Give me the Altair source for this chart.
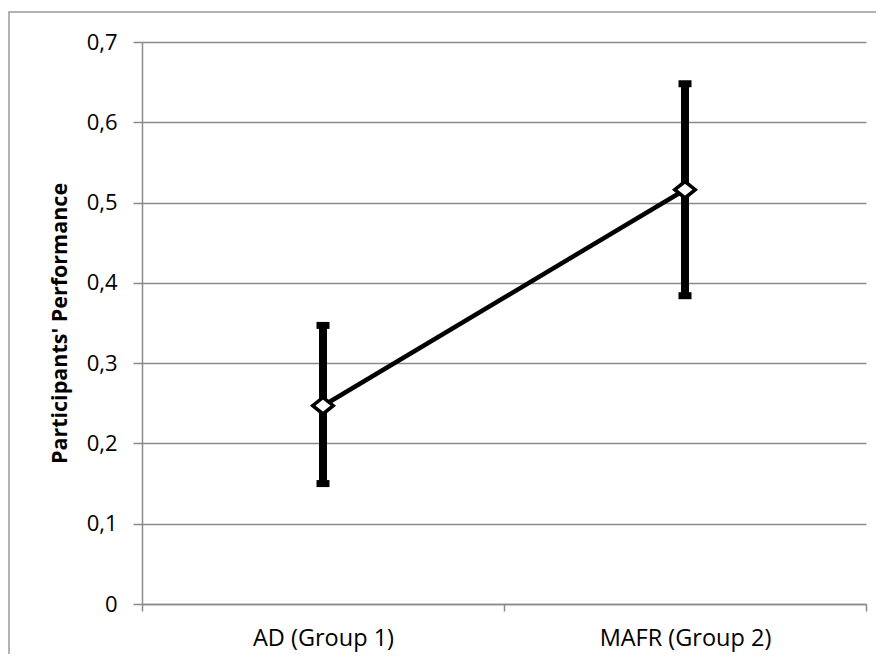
import altair as alt
import pandas as pd

groups = ["AD (Group 1)", "MAFR (Group 2)"]
means = [0.247, 0.516]
lower = [0.150, 0.384]
upper = [0.347, 0.648]
y_ticks = [0, 0.1, 0.2, 0.3, 0.4, 0.5, 0.6, 0.7]

df = pd.DataFrame({"group": groups, "mean": means, "lo": lower, "hi": upper})

FONT = "Open Sans"
GRAY = "#8a8a8a"

x_enc = alt.X(
    "group:N",
    sort=groups,
    scale=alt.Scale(type="band", paddingInner=0, paddingOuter=0),
    axis=alt.Axis(
        title=None, labelAngle=0, tickBand="extent", tickSize=7,
        labelPadding=15, labelFontSize=23.5, labelFont=FONT, labelColor="#000000",
        domainColor=GRAY, tickColor=GRAY, domainWidth=1.5, tickWidth=1.5,
        grid=False,
    ),
)

y_scale = alt.Scale(domain=[0, 0.7], nice=False, zero=True)
y_axis = alt.Axis(
    title="Participants' Performance",
    values=y_ticks,
    labelExpr="replace(format(datum.value, '.1~f'), '.', ',')",
    tickSize=9, labelPadding=16, labelFontSize=22, labelFont=FONT,
    labelColor="#000000",
    titleFont=FONT, titleFontSize=21.5, titleFontWeight="bold", titleColor="#000000",
    titleX=-82, titleBaseline="middle",
    domainColor=GRAY, tickColor=GRAY, gridColor=GRAY,
    domainWidth=1.5, tickWidth=1.5, gridWidth=1.5,
    grid=True,
)

base = alt.Chart(df)

frame = alt.Chart(pd.DataFrame({"a": [0]})).mark_rect(
    fill=None, stroke="#9a9a9a", strokeWidth=1.5, clip=False
).encode(
    x=alt.value(-133), x2=alt.value(780), y=alt.value(-30), y2=alt.value(700)
)

bars = base.mark_rule(color="black", strokeWidth=8, opacity=1).encode(
    x=x_enc,
    y=alt.Y("lo:Q", scale=y_scale, axis=y_axis),
    y2="hi:Q",
)

caps_lo = base.mark_tick(color="black", size=13, thickness=7, opacity=1).encode(
    x=x_enc, y=alt.Y("lo:Q", scale=y_scale)
)
caps_hi = base.mark_tick(color="black", size=13, thickness=7, opacity=1).encode(
    x=x_enc, y=alt.Y("hi:Q", scale=y_scale)
)

line = base.mark_line(color="black", strokeWidth=4.5).encode(
    x=x_enc, y=alt.Y("mean:Q", scale=y_scale)
)

pts = base.mark_point(
    shape="M-1,0L0,-0.8L1,0L0,0.8Z", filled=True, fill="white",
    stroke="black", strokeWidth=3.5, size=420, opacity=1,
).encode(
    x=x_enc, y=alt.Y("mean:Q", scale=y_scale)
)

chart = alt.layer(frame, bars, caps_lo, caps_hi, line, pts).properties(
    width=724, height=562,
    autosize=alt.AutoSizeParams(type="none"),
    padding={"left": 134, "top": 34, "right": 10, "bottom": 50},
    background="white",
).configure_view(stroke=None)

chart.save("out.html", embed_options={"renderer": "svg", "actions": False})
